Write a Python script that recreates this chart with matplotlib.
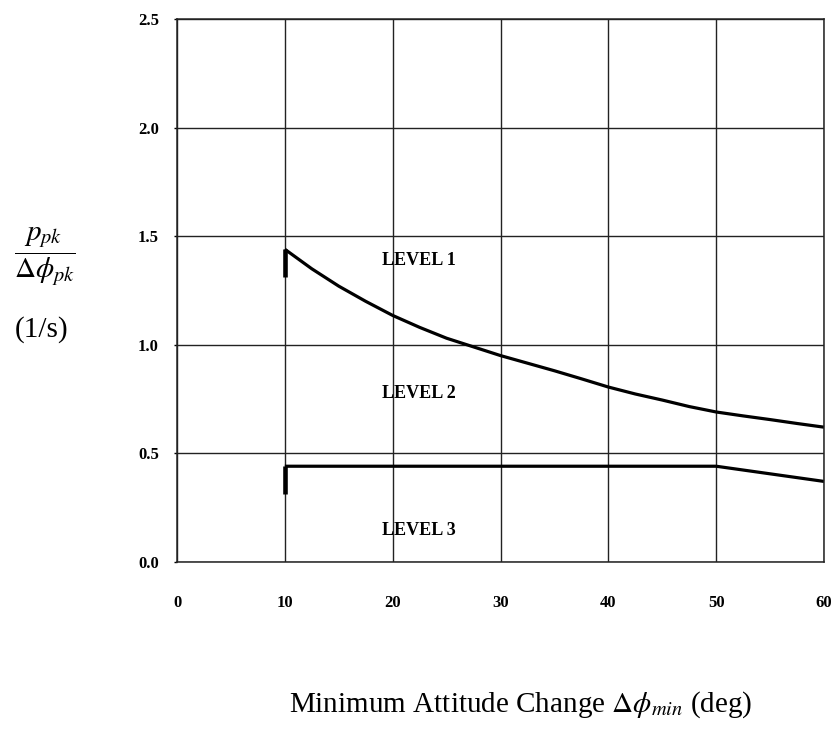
import matplotlib.pyplot as plt
from matplotlib.ticker import FormatStrFormatter

plt.rcParams['font.family'] = ['Liberation Serif', 'DejaVu Serif']
plt.rcParams['mathtext.fontset'] = 'stix'

# Level 1 / Level 2 boundary
l1_x = [10, 12.5, 15, 17.5, 20, 22.5, 25, 27.5, 30, 32.5, 35,
        37.5, 40, 42.5, 45, 47.5, 50, 52.5, 55, 57.5, 60]
l1_y = [1.44, 1.35, 1.27, 1.20, 1.135, 1.08, 1.03, 0.99, 0.95, 0.915, 0.88,
        0.843, 0.805, 0.773, 0.745, 0.715, 0.69, 0.672, 0.655, 0.637, 0.62]
l1_stub_y = [1.31, 1.44]

# Level 2 / Level 3 boundary
l2_x = [10, 50, 60]
l2_y = [0.44, 0.44, 0.37]
l2_stub_y = [0.31, 0.44]

stub_x = 10

levels = ['LEVEL 1', 'LEVEL 2', 'LEVEL 3']
level_x = 22.4
level_y = [1.39, 0.773, 0.146]

x_ticks = [0, 10, 20, 30, 40, 50, 60]
y_ticks = [0.0, 0.5, 1.0, 1.5, 2.0, 2.5]

fig = plt.figure(figsize=(8.31, 7.33), dpi=100)
ax = fig.add_axes([0.213, 0.2337, 0.7786, 0.74])

ax.set_xlim(0, 60)
ax.set_ylim(0, 2.5)
ax.set_xticks(x_ticks)
ax.set_yticks(y_ticks)
ax.yaxis.set_major_formatter(FormatStrFormatter('%.1f'))
ax.grid(True, color='#222222', linewidth=1.0)
ax.set_axisbelow(True)
for s in ax.spines.values():
    s.set_linewidth(1.1)
    s.set_color('#222222')

ax.tick_params(axis='x', length=0, pad=24, labelsize=12)
ax.tick_params(axis='y', length=2, width=1.0, pad=11, labelsize=12)
for lab in ax.get_xticklabels() + ax.get_yticklabels():
    lab.set_fontweight('bold')

# boundary curves
ax.plot(l1_x, l1_y, color='black', linewidth=2.3, solid_capstyle='butt', clip_on=False)
ax.plot([stub_x, stub_x], l1_stub_y, color='black', linewidth=3.3, solid_capstyle='butt')
ax.plot(l2_x, l2_y, color='black', linewidth=2.3, solid_capstyle='butt', clip_on=False)
ax.plot([stub_x, stub_x], l2_stub_y, color='black', linewidth=3.3, solid_capstyle='butt')

for name, yv in zip(levels, level_y):
    ax.text(level_x, yv, name, ha='center', va='center', fontsize=13, fontweight='bold')

# axis titles
fig.text(0.054, 0.652, r'$\dfrac{p_{pk}}{\Delta\phi_{pk}}$', ha='center', va='center', fontsize=21)
fig.text(0.05, 0.55, '(1/s)', ha='center', va='center', fontsize=21)
fig.text(0.627, 0.038, r'Minimum Attitude Change $\Delta\phi_{min}$ (deg)',
         ha='center', va='center', fontsize=21)

fig.savefig('out.png', dpi=100)
